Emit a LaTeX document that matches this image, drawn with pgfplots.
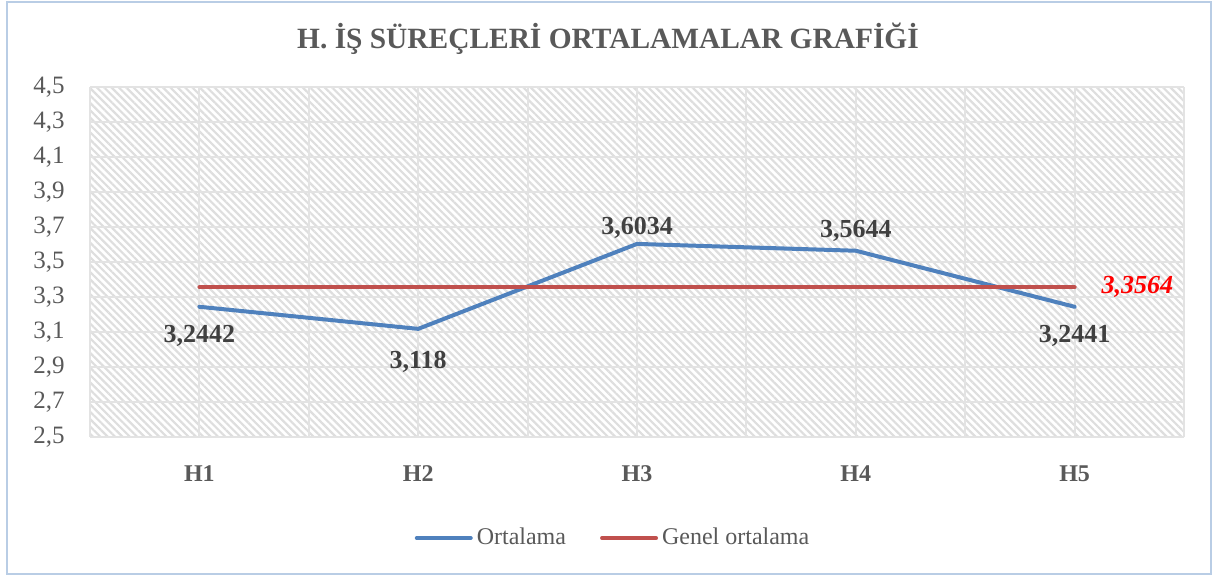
\documentclass[border=0pt]{standalone}
\usepackage{fontspec}
\setmainfont{Liberation Serif}
\usepackage{pgfplots}
\pgfplotsset{compat=1.18}
\usetikzlibrary{patterns.meta}
\definecolor{tickgray}{HTML}{595959}
\definecolor{labgray}{HTML}{404040}
\definecolor{gridgray}{HTML}{E3E3E3}
\definecolor{hatch}{HTML}{DEDEDE}
\definecolor{lblue}{HTML}{4F81BD}
\definecolor{lred}{HTML}{C0504D}
\definecolor{framec}{HTML}{B9CDE5}

\pgfplotsset{
  dlabel/.style={draw=none, mark=none, forget plot,
    nodes near coords={\pgfplotspointmeta}, point meta=explicit symbolic,
    every node near coord/.append style={anchor=center, inner sep=0pt, yshift=#1, text=labgray, font=\fontsize{13}{15}\selectfont\bfseries}},
}

\begin{document}
\begin{tikzpicture}
\path[use as bounding box] (0,0) rectangle (606.5pt,-289.5pt);
\draw[framec, line width=1pt] (3.5pt,-1pt) rectangle (605.5pt,-287pt);
\node[anchor=base, inner sep=0pt, font=\fontsize{14.7}{17}\selectfont\bfseries, text=tickgray] at (304pt,-24pt) {H. İŞ SÜREÇLERİ ORTALAMALAR GRAFİĞİ};
\begin{axis}[
  at={(45pt,-218.5pt)}, anchor=south west,
  scale only axis, width=547pt, height=175pt,
  xmin=-0.5, xmax=4.5, ymin=2.5, ymax=4.5,
  xtick={0,1,2,3,4}, xticklabels={H1,H2,H3,H4,H5},
  minor xtick={-0.5,0.5,1.5,2.5,3.5,4.5},
  ytick={2.5,2.7,2.9,3.1,3.3,3.5,3.7,3.9,4.1,4.3,4.5},
  grid=both,
  major grid style={gridgray, line width=1pt},
  minor grid style={gridgray, line width=1pt},
  axis line style={draw=none},
  major tick length=0pt, minor tick length=0pt,
  axis background/.style={pattern={Lines[angle=-45,distance=2.6pt,line width=1.1pt]}, pattern color=hatch},
  tick label style={text=tickgray},
  xticklabel style={anchor=base, inner sep=0pt, yshift=-22.3pt, font=\fontsize{12}{14}\selectfont\bfseries},
  yticklabel style={anchor=east, inner sep=0pt, xshift=-12.5pt, font=\fontsize{12.5}{14}\selectfont,
    /pgf/number format/.cd, use comma, fixed, fixed zerofill, precision=1, assume math mode=true},
  legend style={at={(axis description cs:0.479,-0.2886)}, anchor=center, draw=none, fill=none,
    font=\fontsize{12}{14}\selectfont, text=tickgray,
    /tikz/every even column/.append style={column sep=15pt}},
  legend columns=2,
  legend image code/.code={\draw[#1, line width=2pt, line cap=round] (0pt,0pt) -- (27pt,0pt);},
  clip=false,
]
\addplot[lblue, line width=2pt, line cap=round, line join=round] coordinates {(0,3.2442) (1,3.118) (2,3.6034) (3,3.5644) (4,3.2441)};
\addlegendentry{Ortalama}
\addplot[lred, line width=2pt, line cap=round] coordinates {(0,3.3564) (1,3.3564) (2,3.3564) (3,3.3564) (4,3.3564)}
  node[pos=1, anchor=west, inner sep=0pt, xshift=12.5pt, text=red, font=\fontsize{13}{15}\selectfont\bfseries\itshape] {3,3564};
\addlegendentry{Genel ortalama}
\addplot[dlabel=-14.5pt] coordinates {(0,3.2442) [3,2442] (4,3.2441) [3,2441]};
\addplot[dlabel=-16.5pt] coordinates {(1,3.118) [3,118]};
\addplot[dlabel=8pt] coordinates {(2,3.6034) [3,6034]};
\addplot[dlabel=9.8pt] coordinates {(3,3.5644) [3,5644]};
\end{axis}
\end{tikzpicture}
\end{document}
